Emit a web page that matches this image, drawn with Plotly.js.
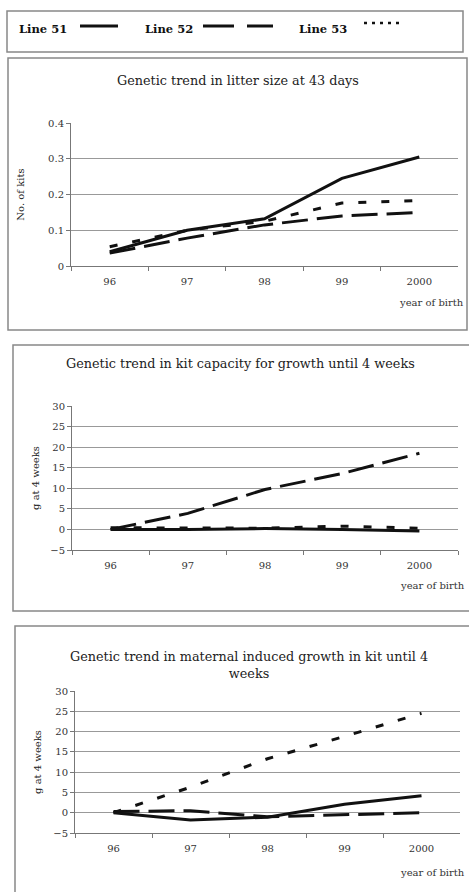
<!DOCTYPE html>
<html>
<head>
<meta charset="utf-8">
<script src="https://cdn.plot.ly/plotly-3.0.1.min.js"></script>
<style>html,body{margin:0;padding:0;background:#fff;}#chart{width:469px;height:892px;}</style>
</head>
<body>
<div id="chart"></div>
<script>
// ---- data ----
const years = ['96', '97', '98', '99', '2000'];
const seriesNames = ['Line 51', 'Line 52', 'Line 53'];

// Panel 1: Genetic trend in litter size at 43 days (No. of kits)
const litter51 = [0.040, 0.100, 0.132, 0.245, 0.305];
const litter52 = [0.036, 0.078, 0.115, 0.140, 0.150];
const litter53 = [0.054, 0.100, 0.125, 0.176, 0.183];

// Panel 2: Genetic trend in kit capacity for growth until 4 weeks (g at 4 weeks)
const kit51 = [0.0, 0.0, 0.2, 0.0, -0.4];
const kit52 = [0.0, 3.9, 9.7, 13.6, 18.5];
const kit53 = [0.4, 0.3, 0.3, 0.8, 0.3];

// Panel 3: Genetic trend in maternal induced growth in kit until 4 weeks (g at 4 weeks)
const mat51 = [0.0, -1.8, -1.1, 2.1, 4.2];
const mat52 = [0.3, 0.5, -1.0, -0.5, 0.0];
const mat53 = [0.0, 6.3, 13.3, 18.8, 24.5];

const panelTitles = [
  'Genetic trend in litter size at 43 days',
  'Genetic trend in kit capacity for growth until 4 weeks',
  'Genetic trend in maternal induced growth in kit until 4<br>weeks'
];
const yTitles = ['No. of kits', 'g at 4 weeks', 'g at 4 weeks'];
const xTitle = 'year of birth';

// ---- layout helpers ----
const W = 469, H = 892;
const fx = p => p / W;
const fy = p => 1 - p / H;
const SERIF = '"DejaVu Serif", "Liberation Serif", serif';
const styles = [
  {color: '#111', width: 3, dash: 'solid'},
  {color: '#111', width: 3, dash: '26px,9px'},
  {color: '#111', width: 3, dash: '8px,15px'}
];

const panels = [
  {data: [litter51, litter52, litter53], x: 'x', y: 'y'},
  {data: [kit51, kit52, kit53], x: 'x2', y: 'y2'},
  {data: [mat51, mat52, mat53], x: 'x3', y: 'y3'}
];

const traces = [];
panels.forEach(p => {
  // draw order: dotted, dashed, solid on top
  [2, 1, 0].forEach(i => {
    traces.push({
      x: years, y: p.data[i], xaxis: p.x, yaxis: p.y,
      type: 'scatter', mode: 'lines', name: seriesNames[i],
      showlegend: false, line: styles[i], hoverinfo: 'skip'
    });
  });
});

function xAxis(domain, anchor) {
  return {
    domain: domain, anchor: anchor, type: 'category', range: [-0.5, 4.5],
    showline: true, linecolor: '#777', linewidth: 1,
    ticks: 'outside', tickson: 'boundaries', ticklen: 4, tickcolor: '#777',
    showgrid: false, zeroline: false, fixedrange: true,
    tickfont: {family: SERIF, size: 10, color: '#333'},
    ticklabelstandoff: 6, automargin: false
  };
}
function yAxis(domain, anchor, range, dtick, title, standoff) {
  return {
    domain: domain, anchor: anchor, range: range, dtick: dtick,
    showline: true, linecolor: '#777', linewidth: 1,
    ticks: 'outside', ticklen: 4, tickcolor: '#777',
    showgrid: true, gridcolor: '#999', gridwidth: 1, zeroline: false,
    tickfont: {family: SERIF, size: 10, color: '#333'},
    title: {text: title, font: {family: SERIF, size: 10, color: '#222'}, standoff: standoff},
    automargin: false, fixedrange: true
  };
}

const boxLine = {color: '#888', width: 1.5};
const shapes = [
  // legend frame
  {type: 'rect', xref: 'paper', yref: 'paper', x0: fx(7), x1: fx(463), y0: fy(52), y1: fy(11), line: boxLine},
  // panel frames
  {type: 'rect', xref: 'paper', yref: 'paper', x0: fx(8), x1: fx(467), y0: fy(330), y1: fy(58), line: boxLine},
  {type: 'rect', xref: 'paper', yref: 'paper', x0: fx(13), x1: fx(475), y0: fy(611), y1: fy(345), line: boxLine},
  {type: 'rect', xref: 'paper', yref: 'paper', x0: fx(15), x1: fx(475), y0: fy(900), y1: fy(626), line: boxLine},
  // legend keys
  {type: 'line', xref: 'paper', yref: 'paper', x0: fx(80), x1: fx(118), y0: fy(26), y1: fy(26), line: {color: '#111', width: 3}},
  {type: 'line', xref: 'paper', yref: 'paper', x0: fx(203), x1: fx(273), y0: fy(26), y1: fy(26), line: {color: '#111', width: 3, dash: '31px,13px'}},
  {type: 'line', xref: 'paper', yref: 'paper', x0: fx(364), x1: fx(402), y0: fy(23), y1: fy(23), line: {color: '#111', width: 2.5, dash: '3px,5px'}}
];

const ann = (text, x, y, opts) => Object.assign({
  text: text, xref: 'paper', yref: 'paper', x: fx(x), y: fy(y),
  showarrow: false, xanchor: 'center', yanchor: 'middle',
  font: {family: SERIF, size: 12.8, color: '#222'}
}, opts || {});

const legendFont = {family: SERIF, size: 11.5, color: '#111', weight: 'bold'};
const axisTitleFont = {family: SERIF, size: 10, color: '#333'};

const annotations = [
  ann(seriesNames[0], 17, 29, {xanchor: 'left', font: legendFont}),
  ann(seriesNames[1], 143, 29, {xanchor: 'left', font: legendFont}),
  ann(seriesNames[2], 297, 29, {xanchor: 'left', font: legendFont}),
  ann(panelTitles[0], 238, 80),
  ann(panelTitles[1], 240, 363),
  ann(panelTitles[2], 249, 665),
  ann(xTitle, 466, 302, {xanchor: 'right', font: axisTitleFont}),
  ann(xTitle, 467, 585, {xanchor: 'right', font: axisTitleFont}),
  ann(xTitle, 467, 872, {xanchor: 'right', font: axisTitleFont})
];

const layout = {
  width: W, height: H,
  margin: {l: 0, r: 0, t: 0, b: 0},
  paper_bgcolor: '#fff', plot_bgcolor: '#fff',
  showlegend: false,
  xaxis: xAxis([fx(71), fx(458)], 'y'),
  yaxis: yAxis([fy(266), fy(123)], 'x', [0, 0.4], 0.1, yTitles[0], 21),
  xaxis2: xAxis([fx(72), fx(458)], 'y2'),
  yaxis2: yAxis([fy(550), fy(406)], 'x2', [-5, 30], 5, yTitles[1], 8),
  xaxis3: xAxis([fx(75), fx(460)], 'y3'),
  yaxis3: yAxis([fy(833), fy(691)], 'x3', [-5, 30], 5, yTitles[2], 9),
  shapes: shapes,
  annotations: annotations
};

Plotly.newPlot('chart', traces, layout, {displayModeBar: false, staticPlot: true});
</script>
</body>
</html>
